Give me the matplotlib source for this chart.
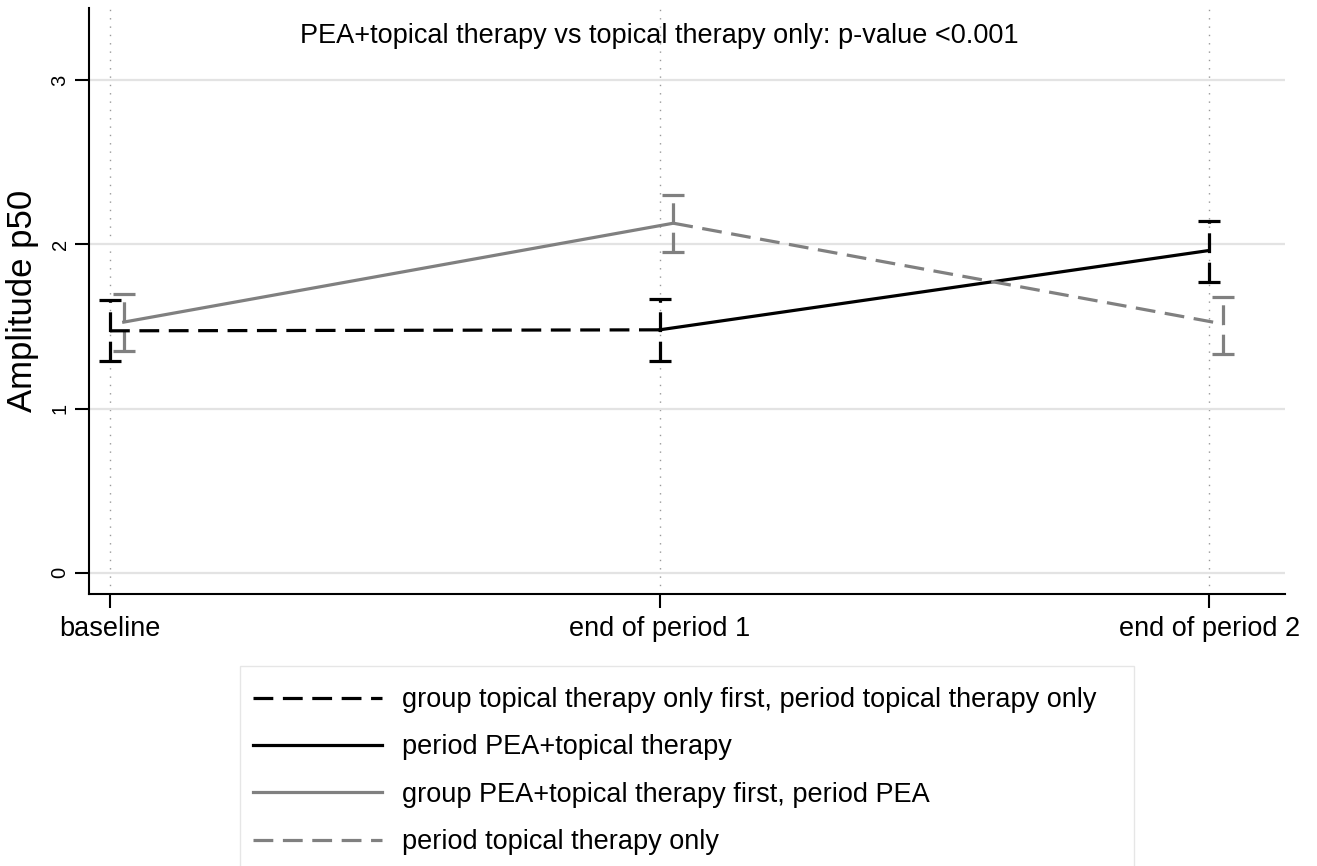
import matplotlib.pyplot as plt
from matplotlib.patches import Rectangle

plt.rcParams['font.family'] = ['Liberation Sans', 'DejaVu Sans']

# time points
timepoints = ['baseline', 'end of period 1', 'end of period 2']
pos = [0, 1, 2]
dodge = 0.025  # small horizontal shift for the second group

# group topical therapy only first (black)
topical_first_mean = [1.473, 1.479, 1.962]
topical_first_lo = [1.290, 1.292, 1.773]
topical_first_hi = [1.660, 1.668, 2.144]

# group PEA+topical therapy first (grey)
pea_first_mean = [1.526, 2.128, 1.515]
pea_first_lo = [1.350, 1.955, 1.333]
pea_first_hi = [1.700, 2.300, 1.678]

title_txt = 'PEA+topical therapy vs topical therapy only: p-value <0.001'
labels = ['group topical therapy only first, period topical therapy only',
          'period PEA+topical therapy',
          'group PEA+topical therapy first, period PEA',
          'period topical therapy only']

BLACK = '#000000'
GREY = '#808080'
LW = 2.3
dash = (0, (6.2, 3.0))

fig = plt.figure(figsize=(13.17, 8.66), dpi=100)
ax = fig.add_axes([89 / 1317, 1 - 594 / 866, (1285 - 89) / 1317, (594 - 8) / 866])

x_black = pos
x_grey = [p + dodge for p in pos]

# error bars (drawn with dashed pattern like the original)
for xs, m, lo, hi, col in [(x_black, topical_first_mean, topical_first_lo, topical_first_hi, BLACK),
                           (x_grey, pea_first_mean, pea_first_lo, pea_first_hi, GREY)]:
    err = [[mi - l for mi, l in zip(m, lo)], [h - mi for mi, h in zip(m, hi)]]
    eb = ax.errorbar(xs, m, yerr=err, fmt='none', ecolor=col, elinewidth=LW,
                     capsize=8, capthick=LW, zorder=3)
    for bc in eb[2]:
        bc.set_linestyle(dash)

# connecting lines
ax.plot(x_black[:2], topical_first_mean[:2], color=BLACK, lw=LW, ls=dash, label=labels[0], zorder=4)
ax.plot(x_black[1:], topical_first_mean[1:], color=BLACK, lw=LW, ls='-', label=labels[1], zorder=4)
ax.plot(x_grey[:2], pea_first_mean[:2], color=GREY, lw=LW, ls='-', label=labels[2], zorder=4)
ax.plot(x_grey[1:], pea_first_mean[1:], color=GREY, lw=LW, ls=dash, label=labels[3], zorder=4)

ax.set_xlim(-0.0382, 2.138)
ax.set_ylim(-0.129, 3.438)
ax.set_xticks(pos)
ax.set_xticklabels(timepoints, fontsize=19.5)
ax.set_yticks([0, 1, 2, 3])
ax.set_yticklabels(['0', '1', '2', '3'], fontsize=14.5, rotation=90, va='center')
ax.set_ylabel('Amplitude p50', fontsize=25, labelpad=8)

ax.xaxis.grid(True, ls=(0, (1, 5)), color='#999999', lw=1.0)
ax.yaxis.grid(True, color='#e3e3e3', lw=1.6)
ax.set_axisbelow(True)

for s in ['top', 'right']:
    ax.spines[s].set_visible(False)
for s in ['left', 'bottom']:
    ax.spines[s].set_linewidth(1.5)
ax.tick_params(axis='both', length=10, width=1.5, direction='out')
ax.tick_params(axis='x', pad=6)
ax.tick_params(axis='y', pad=4)

ax.text(1, 0.953, title_txt, transform=ax.get_xaxis_transform(),
        ha='center', va='center', fontsize=19.5)

# legend with square light frame
fig.add_artist(Rectangle((240 / 1317, -0.02), (1134 - 240) / 1317, 1 - 666 / 866 + 0.02,
                         transform=fig.transFigure, fill=False, edgecolor='#e6e6e6', lw=1))
fig.legend(loc='upper left', bbox_to_anchor=(253 / 1317, 1 - 687 / 866), frameon=False,
           fontsize=19.5, handlelength=4.76, handletextpad=0.74, labelspacing=0.79,
           borderpad=0, borderaxespad=0)

fig.savefig('out.png', dpi=100)
